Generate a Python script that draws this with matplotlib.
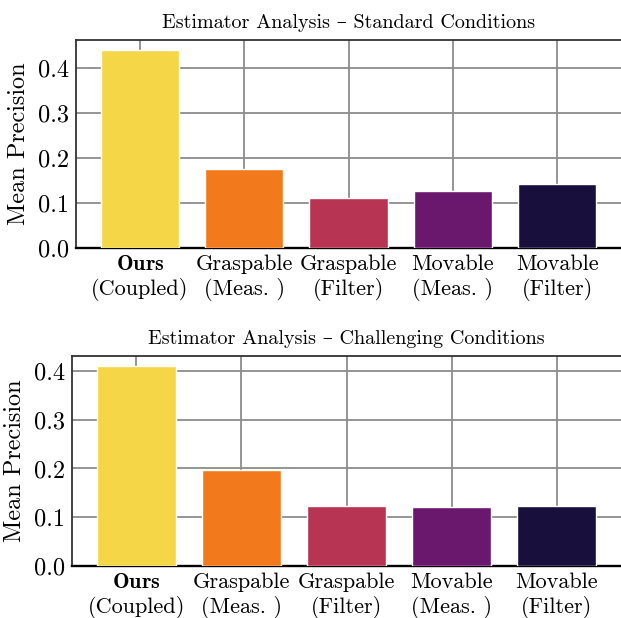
import matplotlib
matplotlib.use("Agg")
import matplotlib.pyplot as plt

plt.rcParams['font.family'] = ['cmr10', 'DejaVu Serif']
plt.rcParams['mathtext.fontset'] = 'cm'
plt.rcParams['axes.formatter.use_mathtext'] = True

labels = [r'$\mathbf{Ours}$' + '\n(Coupled)', 'Graspable\n(Meas. )', 'Graspable\n(Filter)',
          'Movable\n(Meas. )', 'Movable\n(Filter)']
colors = ['#F4D646', '#F27A1D', '#B73552', '#6A176E', '#180F3D']

standard = [0.440, 0.176, 0.111, 0.127, 0.143]
challenging = [0.410, 0.197, 0.124, 0.121, 0.123]

titles = ['Estimator Analysis \u2013 Standard Conditions',
          'Estimator Analysis \u2013 Challenging Conditions']

W, H = 621, 618
fig = plt.figure(figsize=(W / 100, H / 100), dpi=100)
# axes boxes in pixels: left, top, bottom
boxes = [(76, 40, 248), (72, 356, 566)]

for (left, top, bottom), vals, title in zip(boxes, [standard, challenging], titles):
    ax = fig.add_axes([left / W, 1 - bottom / H, 1 - left / W, (bottom - top) / H])
    x = range(len(vals))
    ax.bar(x, vals, width=0.75, color=colors, edgecolor='white', linewidth=1, zorder=3)
    ax.set_xticks(list(x))
    ax.set_xticklabels(labels, fontsize=16, linespacing=1.2)
    ax.set_yticks([0.0, 0.1, 0.2, 0.3, 0.4])
    ax.set_yticklabels(['0.0', '0.1', '0.2', '0.3', '0.4'], fontsize=17.5)
    ax.tick_params(length=0, pad=5)
    ax.grid(True, color='#8c8c8c', linewidth=1.3, zorder=0)
    ax.set_ylabel('Mean Precision', fontsize=17.5, labelpad=6)
    ax.set_title(title, fontsize=14.5, pad=9)
    ax.spines['right'].set_visible(False)
    ax.spines['top'].set_color('#333333')
    ax.spines['top'].set_linewidth(1.3)
    ax.spines['left'].set_color('#333333')
    ax.spines['left'].set_linewidth(1.3)
    ax.spines['bottom'].set_color('black')
    ax.spines['bottom'].set_linewidth(1.7)

fig.savefig('out.png', dpi=100)
